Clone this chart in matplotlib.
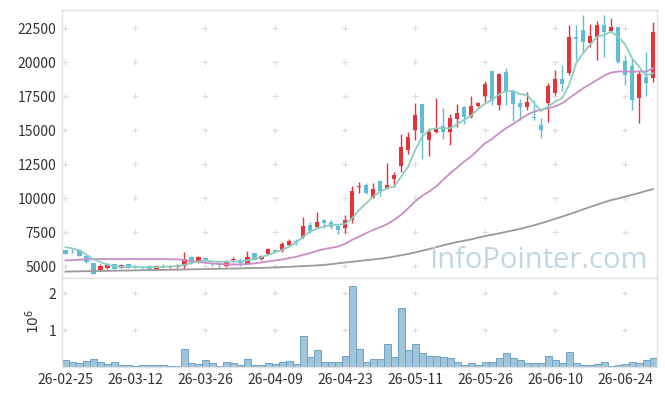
import numpy as np
import matplotlib
matplotlib.use("Agg")
import matplotlib.pyplot as plt

plt.rcParams['font.family'] = ['Noto Sans CJK KR', 'DejaVu Sans']

# daily OHLC (index 0 = 26-02-25)
opens = [6175, 6150, 6225, 5734, 5250, 4720, 4880, 5150, 4880, 5150,
         5060, 4950, 5050, 4770, 5030, 4960, 4980, 5000, 5690, 5320,
         5630, 5220, 5150, 5000, 5460, 5480, 5200, 5990, 5580, 5930,
         6220, 6100, 6590, 6850, 7130, 8030, 7910, 8380, 8280, 7960,
         7790, 8380, 10870, 11000, 10050, 11290, 10730, 11460, 12390, 13570,
         15030, 16940, 14300, 14910, 15320, 14840, 15840, 16720, 16010, 16800,
         17550, 19360, 16870, 19260, 17800, 17010, 16750, 15990, 15400, 17040,
         17720, 18770, 19190, 21860, 22370, 21440, 21840, 22740, 22300, 22570,
         20100, 19730, 17410, 18950, 18830]
highs = [6220, 6250, 6270, 5800, 5260, 5200, 5280, 5200, 5170, 5200,
         5100, 5000, 5080, 5120, 5150, 5100, 5150, 6070, 5800, 5740,
         5700, 5320, 5250, 5490, 5660, 5640, 6150, 6020, 5850, 6350,
         6260, 6760, 7010, 7000, 8620, 8300, 8990, 8500, 8430, 8060,
         8790, 10920, 11170, 11120, 11120, 11320, 12590, 11950, 14715, 14910,
         16990, 16960, 15200, 17360, 16670, 16200, 16920, 16790, 17530, 17110,
         18630, 19380, 19200, 19560, 18040, 17300, 17850, 17240, 15890, 18460,
         19410, 19800, 22740, 22740, 23480, 22790, 23030, 23480, 23280, 22620,
         20540, 20300, 19440, 20730, 22990]
lows = [5900, 6000, 5740, 5250, 4450, 4700, 4800, 4780, 4850, 4880,
        4850, 4830, 4760, 4750, 4900, 4850, 4900, 4830, 5150, 5280,
        5250, 5000, 4900, 4930, 5340, 5000, 5150, 5480, 5480, 5880,
        6030, 6080, 6470, 6600, 7100, 7450, 7850, 7790, 7740, 7400,
        7420, 8200, 10380, 10330, 10000, 10160, 10700, 10800, 11970, 13270,
        14300, 12900, 13150, 14790, 14350, 13900, 15280, 15450, 15900, 16750,
        17110, 16870, 16480, 16870, 15690, 15770, 16500, 15750, 14470, 15640,
        17600, 17900, 19070, 20170, 20780, 21150, 20170, 20420, 22250, 19930,
        18340, 16500, 15520, 17530, 18580]
closes = [5930, 6120, 5785, 5294, 4480, 5000, 5200, 4820, 5070, 4920,
          4870, 4900, 4780, 5000, 4990, 5000, 5020, 5560, 5250, 5660,
          5380, 5180, 5100, 5290, 5510, 5260, 5710, 5500, 5730, 6300,
          6080, 6660, 6840, 6800, 7985, 7630, 8300, 8220, 7870, 7690,
          8400, 10550, 10930, 10380, 10680, 10520, 10950, 11700, 13810, 14540,
          16130, 14790, 14860, 15200, 14870, 15890, 16300, 16010, 16790, 17010,
          18380, 17160, 19140, 17800, 16940, 16750, 17060, 15870, 15030, 18260,
          18780, 18410, 21860, 21740, 21470, 21930, 22740, 22250, 22570, 20000,
          19070, 17240, 19120, 18480, 22250]
volume = [0.18, 0.13, 0.10, 0.15, 0.21, 0.13, 0.07, 0.13, 0.045, 0.045,
          0.02, 0.045, 0.045, 0.045, 0.045, 0.02, 0.02, 0.48, 0.10, 0.07,
          0.18, 0.10, 0.02, 0.13, 0.10, 0.045, 0.21, 0.045, 0.045, 0.10,
          0.07, 0.13, 0.15, 0.07, 0.84, 0.26, 0.45, 0.13, 0.13, 0.13,
          0.29, 2.20, 0.48, 0.13, 0.21, 0.21, 0.62, 0.26, 1.60, 0.45,
          0.62, 0.37, 0.29, 0.29, 0.26, 0.24, 0.13, 0.045, 0.10, 0.045,
          0.13, 0.13, 0.24, 0.37, 0.24, 0.18, 0.10, 0.10, 0.10, 0.29,
          0.18, 0.10, 0.40, 0.10, 0.045, 0.045, 0.07, 0.13, 0.02, 0.045,
          0.07, 0.13, 0.10, 0.18, 0.24]  # millions of shares

# moving averages as drawn (5, 20, long)
ma5 = [6420, 6320, 6175, 5856, 5538, 5318, 5122, 5000, 4975, 4975,
       4975, 4930, 4950, 4950, 4975, 5000, 5020, 5120, 5245, 5367,
       5440, 5367, 5343, 5343, 5367, 5367, 5440, 5560, 5685, 5856,
       6028, 6223, 6468, 6762, 7202, 7569, 7790, 7936, 8059, 8059,
       8132, 8548, 9160, 9649, 10139, 10506, 10750, 10873, 11607, 12341,
       13564, 14543, 15033, 15155, 15155, 15155, 15450, 15767, 16085, 16574,
       16966, 17235, 17651, 17896, 17896, 17651, 17602, 16990, 16427, 16745,
       17112, 17357, 18336, 19927, 20661, 21273, 21884, 22007, 22252, 21884,
       21322, 20294, 19682, 19021, 19193]
ma20 = [5440, 5460, 5500, 5520, 5530, 5540, 5540, 5540, 5540, 5540,
        5540, 5540, 5540, 5540, 5540, 5530, 5520, 5460, 5390, 5330,
        5270, 5220, 5180, 5150, 5140, 5150, 5170, 5220, 5294, 5367,
        5440, 5514, 5612, 5710, 5856, 5979, 6150, 6272, 6370, 6468,
        6664, 6958, 7202, 7447, 7692, 7888, 8108, 8426, 8793, 9282,
        9772, 10188, 10506, 10873, 11362, 11852, 12268, 12708, 13075, 13565,
        14054, 14372, 14788, 15155, 15473, 15816, 16134, 16379, 16501, 16624,
        16746, 16990, 17357, 17724, 18091, 18385, 18703, 19021, 19242, 19315,
        19315, 19315, 19315, 19315, 19560]
ma_long = [4620, 4630, 4640, 4650, 4655, 4665, 4675, 4685, 4695, 4700,
           4710, 4720, 4730, 4740, 4745, 4755, 4765, 4775, 4785, 4795,
           4805, 4815, 4825, 4835, 4845, 4855, 4870, 4880, 4895, 4910,
           4930, 4950, 4975, 5000, 5025, 5050, 5080, 5110, 5170, 5230,
           5290, 5340, 5400, 5460, 5510, 5570, 5640, 5730, 5820, 5920,
           6030, 6150, 6280, 6420, 6550, 6680, 6790, 6890, 6990, 7110,
           7230, 7330, 7430, 7540, 7650, 7760, 7890, 8030, 8170, 8330,
           8500, 8660, 8830, 9000, 9190, 9370, 9540, 9710, 9870, 9990,
           10130, 10260, 10400, 10540, 10680]

tick_labels = ['26-02-25', '26-03-12', '26-03-26', '26-04-09', '26-04-23',
               '26-05-11', '26-05-26', '26-06-10', '26-06-24']
price_ticks = [5000, 7500, 10000, 12500, 15000, 17500, 20000, 22500]
vol_ticks = [1, 2]

o = np.array(opens); h = np.array(highs); l = np.array(lows); c = np.array(closes)
x = np.arange(len(o))
xt = np.arange(len(tick_labels)) * 10
up = c >= o
RED = '#e8323a'
BLUE = '#62bcd6'
col = np.where(up, RED, BLUE)

fig = plt.figure(figsize=(6.65, 3.96), dpi=100)
ax = fig.add_axes([62/665, 1-278/396, 594.5/665, 268/396])
axv = fig.add_axes([62/665, 1-367/396, 594.5/665, 89/396], sharex=ax)

for a in (ax, axv):
    for s in a.spines.values():
        s.set_color('#e3e3e3')
        s.set_linewidth(1.0)
    a.tick_params(length=0, labelsize=10, colors='#333333', pad=4)

# grid crosses
gx, gy = np.meshgrid(xt, price_ticks)
ax.scatter(gx.ravel(), gy.ravel(), marker='+', s=18, color='#dddddd', linewidths=0.8, zorder=0)
gx, gy = np.meshgrid(xt, vol_ticks)
axv.scatter(gx.ravel(), gy.ravel(), marker='+', s=18, color='#dddddd', linewidths=0.8, zorder=0)

ax.vlines(x, l, h, colors=col, linewidth=1.0, zorder=2)
body = np.maximum(np.abs(c - o), 40)
ax.bar(x, body, bottom=np.minimum(o, c), width=0.62, color=col, linewidth=0, zorder=3)

ax.plot(x, ma_long, color='#9a9a9a', lw=1.3, zorder=4)
ax.plot(x, ma20, color='#c98fc4', lw=1.3, zorder=4)
ax.plot(x, ma5, color='#8ecdc1', lw=1.3, zorder=4)

ax.set_xlim(-0.5, len(o) - 0.5)
ax.set_ylim(4150, 23840)
ax.set_yticks(price_ticks)
ax.tick_params(axis='x', labelbottom=False)

axv.bar(x, volume, width=1.0, color='#9cc2d6', edgecolor='#6a9fc6', linewidth=0.7, alpha=0.95, zorder=2)
axv.set_ylim(0, 2.42)
axv.set_yticks(vol_ticks)
axv.set_yticklabels([str(v) for v in vol_ticks])
axv.set_xticks(xt)
axv.set_xticklabels(tick_labels)
fig.text(33/665, 1-321/396, '$10^6$', rotation=90, ha='center', va='center', fontsize=10, color='#333333')

fig.text(648/665, 1-268/396, 'InfoPointer.com', ha='right', va='baseline',
         fontsize=21, color='#c3d7e3', family='Open Sans', zorder=1)

fig.savefig('out.png', dpi=100)
